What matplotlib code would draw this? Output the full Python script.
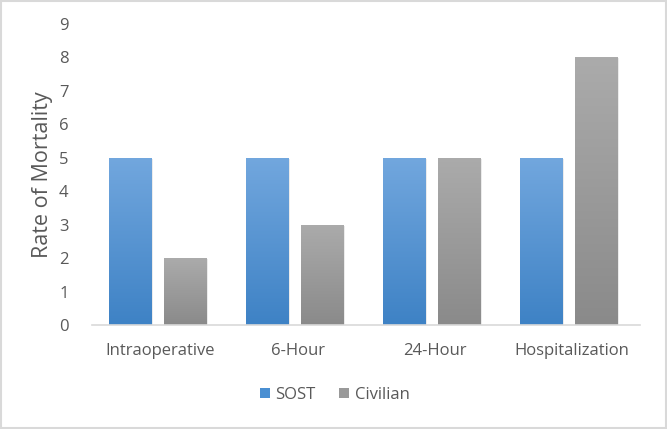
import matplotlib.pyplot as plt
import numpy as np
from matplotlib.colors import LinearSegmentedColormap
from matplotlib.patches import Patch

categories = ["Intraoperative", "6-Hour", "24-Hour", "Hospitalization"]
sost = [5, 5, 5, 5]
civilian = [2, 3, 5, 8]

BLUE_TOP, BLUE_BOT = "#72a7de", "#3e82c5"
GRAY_TOP, GRAY_BOT = "#ababab", "#8a8a8a"
TXT = "#595959"

plt.rcParams["font.family"] = ["Open Sans", "DejaVu Sans"]

fig = plt.figure(figsize=(6.67, 4.29), dpi=100)
ax = fig.add_axes([0.138, 0.2424, 0.8215, 0.7016])

x = np.arange(len(categories))
width = 0.31
off = 0.2


def gradient_bars(bars, top, bot):
    cmap = LinearSegmentedColormap.from_list("g", [bot, top])
    grad = np.linspace(0, 1, 256).reshape(-1, 1)
    for b in bars:
        x0, y0 = b.get_x(), b.get_y()
        w, h = b.get_width(), b.get_height()
        # faint shadow
        ax.bar(x0 + w / 2 + 0.012, h, w, bottom=y0 - 0.03,
               color="#000000", alpha=0.08, zorder=1)
        im = ax.imshow(grad, cmap=cmap, aspect="auto", origin="lower",
                       extent=(x0, x0 + w, y0, y0 + h), zorder=2)
        im.set_clip_path(b)
        b.set_facecolor("none")


b1 = ax.bar(x - off - 0.02, sost, width, zorder=2, linewidth=0)
b2 = ax.bar(x + off - 0.02, civilian, width, zorder=2, linewidth=0)
gradient_bars(b1, BLUE_TOP, BLUE_BOT)
gradient_bars(b2, GRAY_TOP, GRAY_BOT)

ax.set_xlim(-0.5, 3.5)
ax.set_ylim(0, 9)
ax.set_yticks(range(10))
ax.set_xticks(x)
ax.set_xticklabels(categories)
ax.tick_params(axis="both", length=0, labelsize=12, colors=TXT)
ax.tick_params(axis="y", pad=17)
ax.tick_params(axis="x", pad=13)
for s in ["top", "right", "left"]:
    ax.spines[s].set_visible(False)
ax.spines["bottom"].set_color("#d9d9d9")
ax.spines["bottom"].set_linewidth(1.2)

ax.set_ylabel("Rate of Mortality", fontsize=15.5, color=TXT, labelpad=4)

handles = [Patch(facecolor="#4a8fd2", label="SOST"),
           Patch(facecolor="#999999", label="Civilian")]
fig.legend(handles=handles, loc="center", bbox_to_anchor=(0.502, 0.08),
           ncol=2, frameon=False, fontsize=12, handlelength=0.6,
           handleheight=0.6, handletextpad=0.35, columnspacing=1.4,
           labelcolor=TXT)

fig.patches.append(plt.Rectangle((0.002, 0.002), 0.996, 0.995,
                                 transform=fig.transFigure, fill=False,
                                 edgecolor="#d9d9d9", linewidth=1.5))

plt.savefig("out.png", dpi=100, facecolor="white")
